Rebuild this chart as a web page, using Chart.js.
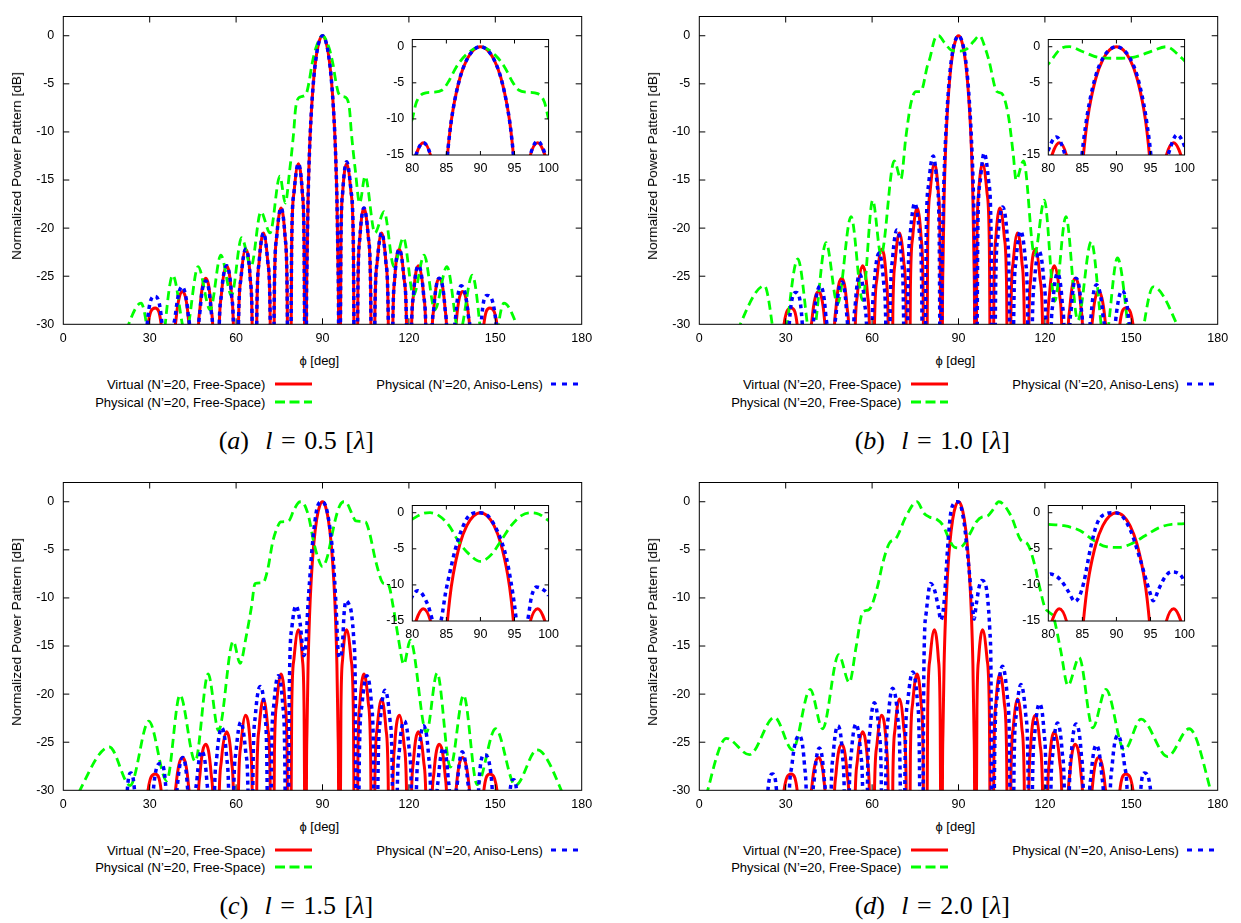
<!DOCTYPE html>
<html><head><meta charset="utf-8">
<script src="https://cdn.jsdelivr.net/npm/chart.js@4.4.1/dist/chart.umd.min.js"></script>
<style>
body{margin:0;background:#fff;}
#page{position:relative;width:1241px;height:923px;overflow:hidden;background:#fff;font-family:'Liberation Sans',Arial,sans-serif;color:#000;}
canvas{position:absolute;}
.ytitle{position:absolute;font-size:12px;white-space:nowrap;transform:translate(-50%,-50%) rotate(-90deg) scaleX(1.14);}
.xtitle{position:absolute;font-size:13px;white-space:nowrap;transform:translate(-50%,-50%);}
.leg{position:absolute;font-size:13px;white-space:nowrap;transform:translate(-100%,-50%);}
.samp{position:absolute;transform:translateY(-50%);}
.cap{position:absolute;font-family:'Liberation Serif','DejaVu Serif',serif;font-size:26px;white-space:nowrap;transform:translate(-50%,-50%);}
.cap .s{display:inline-block;width:0.33em;}
.cap .S{display:inline-block;width:0.62em;}
</style></head><body><div id="page"></div>
<script>
// ---------- tick labels ----------
const xTicksMain=[0,30,60,90,120,150,180];
const yTicksMain=[0,-5,-10,-15,-20,-25,-30];
const xTicksInset=[80,85,90,95,100];
const yTicksInset=[0,-5,-10,-15];
const seriesNames=['Virtual (N\u2019=20, Free-Space)','Physical (N\u2019=20, Free-Space)','Physical (N\u2019=20, Aniso-Lens)'];
const captionLetters=['a','b','c','d'];
const captionValues=['0.5','1.0','1.5','2.0'];

// ---------- series: [phi deg, dB] ----------
const virtualFS=[[25.8,-60],[28.9,-31.3],[31.9,-28.3],[34.4,-31.3],[36.9,-60],
[38.0,-34.9],[39.1,-29.6],[41.4,-26.6],[43.5,-29.6],[44.5,-34.9],[45.6,-60],
[46.6,-33.5],[47.5,-28.2],[49.5,-25.2],[51.3,-28.2],[52.2,-33.5],[53.1,-60],
[54.0,-32.2],[54.9,-26.9],[56.7,-23.9],[58.4,-26.9],[59.2,-32.2],[60.0,-60],
[60.8,-30.5],[61.7,-25.2],[63.3,-22.2],[64.9,-25.2],[65.6,-30.5],[66.4,-60],
[67.2,-28.8],[68.0,-23.5],[69.5,-20.5],[71.0,-23.5],[71.8,-28.8],[72.5,-60],
[73.3,-26.2],[74.1,-20.9],[75.6,-17.9],[77.0,-20.9],[77.7,-26.2],[78.5,-60],
[79.3,-21.6],[80.1,-16.3],[81.6,-13.3],[83.0,-16.3],[83.6,-21.6],[84.3,-60],
[84.4,-32],[84.6,-24],[85.0,-16.9],[85.5,-11.9],[86.0,-8.6],[87.0,-4.3],[88.0,-1.8],[89.0,-0.44],[90,0],[91,-0.44],[92,-1.8],[93,-4.3],[94,-8.6],[94.5,-11.9],[95,-16.9],[95.4,-24],[95.6,-32],[95.7,-60],
[96.4,-21.6],[97.0,-16.3],[98.4,-13.3],[99.9,-16.3],[100.7,-21.6],[101.5,-60],
[102.3,-26.2],[103.0,-20.9],[104.4,-17.9],[105.9,-20.9],[106.7,-26.2],[107.5,-60],
[108.2,-28.8],[109.0,-23.5],[110.5,-20.5],[112.0,-23.5],[112.8,-28.8],[113.6,-60],
[114.4,-30.5],[115.1,-25.2],[116.7,-22.2],[118.3,-25.2],[119.2,-30.5],[120.0,-60],
[120.8,-32.2],[121.6,-26.9],[123.3,-23.9],[125.1,-26.9],[126.0,-32.2],[126.9,-60],
[127.8,-33.5],[128.7,-28.2],[130.5,-25.2],[132.5,-28.2],[133.4,-33.5],[134.4,-60],
[135.5,-34.9],[136.5,-29.6],[138.6,-26.6],[140.9,-29.6],[142.0,-34.9],[143.1,-60],
[145.6,-31.3],[148.1,-28.3],[151.1,-31.3],[154.2,-60]];

const physFS_a=[[20,-32],[27.0,-27.8],[32.5,-36],[38.0,-24.9],[42.5,-31.0],[46.8,-24.0],[51.0,-28.5],[54.7,-22.8],[58.4,-27.0],[61.9,-21.0],[65.2,-24.0],[68.6,-18.3],[71.8,-20.5],[75.2,-14.6],[77.1,-17.4],[78.6,-14.0],[80.0,-10.0],[80.6,-7.7],[81.6,-6.5],[83.0,-6.3],[84.4,-6.0],[85.4,-4.7],[86.4,-2.9],[87.8,-1.2],[90,0],[92.2,-1.2],[93.6,-2.9],[94.6,-4.7],[95.6,-6.0],[97.0,-6.3],[98.4,-6.5],[99.4,-7.7],[100.0,-10.0],[101.4,-14.0],[102.9,-17.4],[104.8,-14.6],[108.2,-20.5],[111.4,-18.3],[114.8,-24.0],[118.1,-21.0],[121.6,-27.0],[125.3,-22.8],[129.0,-28.5],[133.2,-24.0],[137.5,-31.0],[142.0,-24.9],[147.5,-36],[153.0,-27.8],[160,-32]];

const physFS_b=[[11,-32],[22.6,-26.0],[28.0,-34],[34.2,-23.2],[39.0,-32],[44.0,-21.5],[48.0,-27.9],[52.7,-18.8],[56.7,-27.5],[60.2,-17.1],[63.1,-22.8],[67.7,-13.0],[70.0,-14.9],[71.7,-10.6],[73.5,-7.0],[75.2,-5.8],[76.9,-5.8],[79.3,-3.0],[80.0,-2.4],[81.8,-0.3],[83.1,0],[85.1,-0.7],[87.5,-1.5],[90.0,-1.6],[92.8,-1.4],[95.2,-0.6],[97.3,0],[99.5,-1.5],[100.6,-2.6],[103.3,-5.8],[105.0,-6.0],[107.3,-8.3],[109.0,-12.3],[110.0,-15.0],[112.6,-13.0],[116.4,-22.8],[119.8,-17.1],[123.4,-27.6],[127.3,-18.8],[131.4,-29.6],[136.1,-21.4],[140.8,-32],[145.2,-23.1],[151.2,-34],[157.6,-26.1],[169,-32]];

const physFS_c=[[3,-31.5],[16.0,-25.5],[23.2,-29.5],[29.7,-22.8],[35.9,-29.0],[40.5,-20.1],[45.8,-27.0],[50.3,-17.9],[53.9,-23.8],[59.0,-14.5],[61.4,-16.8],[63.5,-14.0],[65.3,-11.0],[66.6,-8.5],[69.4,-8.4],[71.0,-7.0],[72.7,-4.2],[74.4,-2.6],[75.5,-2.1],[78.2,-2.0],[80.0,-0.9],[81.6,-0.1],[82.6,0],[83.9,-0.4],[85.4,-1.8],[86.8,-4.0],[88.3,-5.7],[90,-6.75],[91.7,-5.7],[93.1,-3.75],[94.5,-1.8],[96.0,-0.4],[97.4,0],[98.6,-0.2],[100.0,-1.1],[101.6,-2.0],[104.9,-2.1],[106.3,-3.2],[108.5,-6.2],[111.2,-8.5],[112.8,-8.6],[114.6,-11.0],[116.4,-14.3],[118.2,-16.9],[120.5,-14.4],[126.1,-24.0],[129.8,-17.8],[134.4,-27.6],[139.0,-20.1],[143.7,-29.4],[150.1,-23.6],[157.0,-29.5],[164.5,-25.8],[176,-32]];

const physFS_d=[[1,-32],[9.4,-24.6],[17.4,-26.3],[26.1,-22.4],[32.4,-25.8],[38.5,-19.5],[42.8,-23.6],[48.4,-15.9],[52.1,-18.8],[54.5,-15.0],[56.7,-11.5],[59.0,-11.2],[61.9,-8.8],[63.6,-6.5],[66.0,-4.3],[68.3,-3.8],[71.8,-1.5],[75.6,0],[78.0,-1.2],[80.0,-1.6],[82.3,-1.8],[84.7,-2.5],[86.6,-3.8],[88.5,-4.7],[90.4,-4.8],[92.3,-4.25],[94.2,-3.2],[96.2,-2.1],[98.1,-1.6],[100.0,-1.5],[101.8,-0.9],[104.0,0],[108.2,-1.45],[111.7,-4.0],[114.0,-4.4],[116.4,-6.5],[118.1,-8.8],[120.0,-11.0],[121.5,-11.5],[123.0,-12.0],[125.5,-15.5],[128.0,-19.1],[131.9,-16.2],[136.6,-23.5],[141.2,-19.5],[147.6,-25.8],[153.4,-22.6],[162.6,-26.5],[170.1,-23.6],[179,-31.5]];

const physAL_a=[[26.5,-60],[29.1,-30.1],[31.7,-27.1],[34.3,-30.1],[36.6,-60],
[37.7,-34.4],[38.9,-29.1],[41.2,-26.1],[43.4,-29.1],[44.5,-34.4],[45.6,-60],
[46.6,-33.8],[47.5,-28.5],[49.5,-25.5],[51.3,-28.5],[52.2,-33.8],[53.1,-60],
[54.0,-32.2],[54.9,-26.9],[56.7,-23.9],[58.4,-26.9],[59.2,-32.2],[60.0,-60],
[60.8,-30.5],[61.7,-25.2],[63.3,-22.2],[64.9,-25.2],[65.6,-30.5],[66.4,-60],
[67.2,-28.8],[68.0,-23.5],[69.5,-20.5],[71.0,-23.5],[71.8,-28.8],[72.5,-60],
[73.3,-26.2],[74.1,-20.9],[75.6,-17.9],[77.0,-20.9],[77.7,-26.2],[78.5,-60],
[79.3,-21.6],[80.1,-16.3],[81.6,-13.3],[83.0,-16.3],[83.6,-21.6],[84.3,-60],
[84.4,-32],[84.6,-24],[85.0,-16.9],[85.5,-11.9],[86.0,-8.6],[87.0,-4.3],[88.0,-1.8],[89.0,-0.44],[90,0],[91,-0.44],[92,-1.8],[93,-4.3],[94,-8.6],[94.5,-11.9],[95,-16.9],[95.4,-24],[95.6,-32],[95.7,-60],
[96.4,-21.6],[97.0,-16.3],[98.4,-13.1],[99.9,-16.1],[100.7,-21.4],[101.5,-60],
[102.3,-26.2],[103.0,-20.9],[104.4,-17.9],[105.9,-20.9],[106.7,-26.2],[107.5,-60],
[108.2,-28.8],[109.0,-23.5],[110.5,-20.5],[112.0,-23.5],[112.8,-28.8],[113.6,-60],
[114.4,-30.5],[115.1,-25.2],[116.7,-22.2],[118.3,-25.2],[119.2,-30.5],[120.0,-60],
[120.8,-32.2],[121.6,-26.9],[123.3,-23.9],[125.1,-26.9],[126.0,-32.2],[126.9,-60],
[127.8,-33.5],[128.7,-28.2],[130.5,-25.2],[132.5,-28.2],[133.4,-33.5],[134.4,-60],
[135.4,-34.3],[136.3,-29.0],[138.2,-26.0],[140.6,-29.0],[141.8,-34.3],[143.0,-60],
[145.1,-30.0],[147.2,-27.0],[150.3,-30.0],[153.5,-60]];

const physAL_b=[[29.0,-60],[31.3,-29.7],[33.6,-26.7],[35.7,-29.7],[37.8,-60],
[38.9,-34.3],[39.9,-29.0],[42.0,-26.0],[43.9,-29.0],[44.8,-34.3],[45.7,-60],
[46.7,-33.9],[47.6,-28.6],[49.5,-25.6],[51.1,-28.6],[51.8,-33.9],[52.6,-60],
[53.4,-33.1],[54.2,-27.8],[55.7,-24.8],[57.4,-27.8],[58.3,-33.1],[59.1,-60],
[60.0,-30.9],[60.8,-25.6],[62.5,-22.6],[64.0,-25.6],[64.8,-30.9],[65.5,-60],
[66.3,-28.5],[67.1,-23.2],[68.6,-20.2],[70.2,-23.2],[70.9,-28.5],[71.7,-60],
[72.5,-25.7],[73.3,-20.4],[74.8,-17.4],[76.4,-20.4],[77.2,-25.7],[78.0,-60],
[78.8,-20.8],[79.6,-15.5],[81.2,-12.5],[82.6,-15.5],[83.3,-20.8],[84.0,-60],
[84.2,-28],[84.6,-19],[85.0,-14.5],[85.5,-10.8],[86.0,-7.9],[87.0,-3.9],[88.0,-1.6],[89.0,-0.4],[90,0],[91,-0.4],[92,-1.6],[93,-3.9],[94,-7.9],[94.5,-10.8],[95.0,-14.5],[95.4,-19],[95.8,-28],[96.0,-60],
[96.7,-20.5],[97.5,-15.2],[98.9,-12.2],[100.5,-15.2],[101.3,-20.5],[102.1,-60],
[102.9,-26.1],[103.7,-20.8],[105.3,-17.8],[106.9,-20.8],[107.6,-26.1],[108.4,-60],
[109.2,-28.6],[110.0,-23.3],[111.6,-20.3],[113.2,-23.3],[114.0,-28.6],[114.8,-60],
[115.6,-30.7],[116.4,-25.4],[118.0,-22.4],[119.6,-25.4],[120.4,-30.7],[121.2,-60],
[122.0,-33.0],[122.8,-27.7],[124.4,-24.7],[126.0,-27.7],[126.8,-33.0],[127.6,-60],
[128.4,-33.5],[129.2,-28.2],[130.8,-25.2],[132.6,-28.2],[133.4,-33.5],[134.3,-60],
[135.2,-34.2],[136.1,-28.9],[137.9,-25.9],[140.1,-28.9],[141.2,-34.2],[142.3,-60],
[143.4,-34.8],[144.6,-29.5],[146.8,-26.5],[149.1,-29.5],[150.2,-34.8],[151.3,-60]];

const physAL_c=[[20.5,-60],[22.0,-31.2],[23.5,-28.2],[25.0,-31.2],[28.6,-60],
[31.2,-30.2],[33.8,-27.2],[35.7,-30.2],[37.6,-60],
[38.6,-34.9],[39.6,-29.6],[41.5,-26.6],[43.1,-29.6],[43.9,-34.9],[44.7,-60],
[45.5,-34.2],[46.4,-28.9],[48.0,-25.9],[49.8,-28.9],[50.6,-34.2],[51.5,-60],
[52.4,-31.8],[53.3,-26.5],[55.0,-23.5],[56.7,-26.5],[57.5,-31.8],[58.3,-60],
[59.1,-31.2],[60.0,-25.9],[61.6,-22.9],[63.3,-25.9],[64.2,-31.2],[65.0,-60],
[65.9,-27.5],[66.7,-22.2],[68.4,-19.2],[70.0,-22.2],[70.7,-27.5],[71.5,-60],
[72.3,-26.4],[73.1,-21.1],[74.6,-18.1],[76.2,-21.1],[76.9,-26.4],[77.7,-60],
[78.5,-19.1],[79.4,-13.0],[80.8,-10.8],[82.3,-12.8],[83.0,-15.0],[83.5,-16.0],[84.2,-15.0],[84.9,-11.0],[85.6,-7.9],[86.3,-5.1],[87.3,-2.2],[88.3,-0.44],[89.7,0],[91.1,-0.44],[92.1,-1.8],[93.1,-4.0],[93.8,-6.2],[94.5,-9.7],[95.0,-12.8],[95.3,-15.0],[95.9,-16.2],[96.9,-15.0],[97.5,-11.6],[98.2,-10.3],[99.1,-10.6],[100.0,-11.5],[100.9,-14.5],[101.4,-20.0],[101.9,-60],
[102.8,-26.4],[103.7,-21.1],[105.4,-18.1],[107.0,-21.1],[107.7,-26.4],[108.5,-60],
[109.3,-27.9],[110.1,-22.6],[111.7,-19.6],[113.4,-22.6],[114.2,-27.9],[115.0,-60],
[115.9,-31.1],[116.7,-25.8],[118.4,-22.8],[120.1,-25.8],[120.9,-31.1],[121.7,-60],
[122.5,-31.6],[123.4,-26.3],[125.0,-23.3],[126.8,-26.3],[127.6,-31.6],[128.5,-60],
[129.4,-33.9],[130.3,-28.6],[132.0,-25.6],[133.6,-28.6],[134.4,-33.9],[135.2,-60],
[136.0,-34.3],[136.9,-29.0],[138.5,-26.0],[140.4,-29.0],[141.4,-34.3],[142.3,-60],
[144.3,-29.3],[146.2,-26.3],[148.8,-29.3],[151.3,-60],
[155.0,-30.5],[156.3,-28.9],[157.5,-30.5],[159.5,-60]];

const physAL_d=[[22.0,-60],[23.6,-30.8],[25.4,-28.3],[27.0,-30.8],[29.7,-60],
[31.0,-32.6],[32.2,-27.3],[34.7,-24.3],[36.5,-27.3],[37.3,-32.6],[38.2,-60],
[39.1,-33.9],[40.0,-28.6],[41.7,-25.6],[43.3,-28.6],[44.1,-33.9],[44.9,-60],
[45.7,-31.6],[46.5,-26.3],[48.1,-23.3],[49.7,-26.3],[50.4,-31.6],[51.2,-60],
[52.0,-31.4],[52.8,-26.1],[54.4,-23.1],[56.0,-26.1],[56.8,-31.4],[57.6,-60],
[58.4,-29.2],[59.2,-23.9],[60.8,-20.9],[62.4,-23.9],[63.2,-29.2],[64.0,-60],
[64.8,-27.7],[65.6,-22.4],[67.1,-19.4],[68.9,-22.4],[69.7,-27.7],[70.6,-60],
[71.5,-26.0],[72.4,-20.7],[74.1,-17.7],[75.7,-20.7],[76.4,-26.0],[77.2,-60],
[78.0,-16.8],[78.8,-11.5],[80.3,-8.5],[81.8,-9.3],[83.0,-11.0],[83.9,-12.3],[84.6,-11.5],[85.2,-9.7],[86.2,-4.9],[87.2,-1.4],[88.6,-0.1],[89.5,0],[90.5,-0.2],[92.0,-2.3],[93.4,-6.2],[94.9,-11.0],[95.4,-12.2],[96.2,-10.6],[97.2,-8.8],[98.1,-8.2],[99.1,-8.4],[100.0,-9.7],[100.9,-13.5],[101.3,-19.0],[101.7,-60],
[102.6,-25.4],[103.5,-20.1],[105.3,-17.1],[106.9,-20.1],[107.7,-25.4],[108.5,-60],
[109.3,-27.3],[110.1,-22.0],[111.7,-19.0],[113.3,-22.0],[114.1,-27.3],[114.9,-60],
[115.7,-29.3],[116.5,-24.0],[118.1,-21.0],[119.7,-24.0],[120.4,-29.3],[121.2,-60],
[122.0,-31.3],[122.8,-26.0],[124.4,-23.0],[126.0,-26.0],[126.8,-31.3],[127.6,-60],
[128.4,-31.4],[129.2,-26.1],[130.8,-23.1],[132.6,-26.1],[133.4,-31.4],[134.3,-60],
[135.2,-33.6],[136.1,-28.3],[137.8,-25.3],[139.7,-28.3],[140.6,-33.6],[141.5,-60],
[142.5,-32.6],[143.4,-27.3],[145.3,-24.3],[147.6,-27.3],[148.8,-32.6],[149.9,-60],
[153.2,-30.3],[154.6,-28.2],[156.8,-30.3],[159.0,-60]];

// ---------- layout ----------
const panels=[
 {ox:0,oy:0,green:physFS_a,blue:physAL_a},
 {ox:636,oy:0,green:physFS_b,blue:physAL_b},
 {ox:0,oy:465.7,green:physFS_c,blue:physAL_c},
 {ox:636,oy:465.7,green:physFS_d,blue:physAL_d}
];
const RED='#ff0000',GREEN='#00ff00',BLUE='#0000ff';

const frameTicks={id:'frameTicks',afterDatasetsDraw(chart,args,o){
  const {ctx,chartArea:a,scales:{x,y}}=chart;
  ctx.save();ctx.strokeStyle='#000';ctx.lineWidth=1;ctx.setLineDash([]);
  ctx.strokeRect(a.left,a.top,a.right-a.left,a.bottom-a.top);
  ctx.beginPath();
  x.ticks.forEach(t=>{const p=x.getPixelForValue(t.value);if(p<=a.left+0.5||p>=a.right-0.5)return;
    ctx.moveTo(p,a.bottom);ctx.lineTo(p,a.bottom-o.len);ctx.moveTo(p,a.top);ctx.lineTo(p,a.top+o.len);});
  y.ticks.forEach(t=>{const p=y.getPixelForValue(t.value);if(p<=a.top+0.5||p>=a.bottom-0.5)return;
    ctx.moveTo(a.left,p);ctx.lineTo(a.left+o.len,p);ctx.moveTo(a.right,p);ctx.lineTo(a.right-o.len,p);});
  ctx.stroke();ctx.restore();
}};

const page=document.getElementById('page');
function mkCanvas(l,t,w,h){const c=document.createElement('canvas');c.width=w;c.height=h;c.style.left=l+'px';c.style.top=t+'px';c.style.width=w+'px';c.style.height=h+'px';page.appendChild(c);return c;}

function makeChart(cv,p,cfg){
  const tickFont={family:"'Liberation Sans', Arial, sans-serif",size:12.5};
  return new Chart(cv,{type:'line',
    data:{datasets:[
      {data:p.blue,borderColor:BLUE,borderWidth:3.5,borderDash:[4,4],order:0,clip:0},
      {data:p.green,borderColor:GREEN,borderWidth:2.8,borderDash:[9,5],order:1,clip:0},
      {data:virtualFS,borderColor:RED,borderWidth:3,order:2,clip:0}
    ]},
    options:{responsive:false,animation:false,events:[],
      layout:{padding:{left:0,top:cfg.padTop,right:cfg.padRight,bottom:0}},
      elements:{point:{radius:0},line:{cubicInterpolationMode:'monotone',capBezierPoints:false,borderCapStyle:'butt',fill:false}},
      plugins:{legend:{display:false},tooltip:{enabled:false},frameTicks:{len:cfg.tickLen}},
      scales:{
        x:{type:'linear',min:cfg.xr[0],max:cfg.xr[1],
          afterFit(s){s.height=cfg.xH;},
          afterBuildTicks(s){s.ticks=cfg.xt.map(v=>({value:v}));},
          grid:{display:false,drawTicks:false},border:{display:false},
          ticks:{padding:cfg.xPad,font:tickFont,color:'#000',maxRotation:0,autoSkip:false,callback:v=>String(v)}},
        y:{type:'linear',min:cfg.yr[0],max:cfg.yr[1],
          afterFit(s){s.width=cfg.yW;},
          afterBuildTicks(s){s.ticks=cfg.yt.map(v=>({value:v}));},
          grid:{display:false,drawTicks:false},border:{display:false},
          ticks:{padding:cfg.yPad,font:tickFont,color:'#000',autoSkip:false,callback:v=>String(v)}}
      }},
    plugins:[frameTicks]});
}

function addDiv(cls,html,l,t){const d=document.createElement('div');d.className=cls;d.innerHTML=html;d.style.left=l+'px';d.style.top=t+'px';page.appendChild(d);return d;}
function addSample(l,t,len,color,dash,w){
  const ns='http://www.w3.org/2000/svg';const s=document.createElementNS(ns,'svg');
  s.setAttribute('width',len);s.setAttribute('height',8);s.setAttribute('class','samp');
  s.style.left=l+'px';s.style.top=t+'px';
  const ln=document.createElementNS(ns,'line');ln.setAttribute('x1',0);ln.setAttribute('x2',len);ln.setAttribute('y1',4);ln.setAttribute('y2',4);
  ln.setAttribute('stroke',color);ln.setAttribute('stroke-width',w);if(dash)ln.setAttribute('stroke-dasharray',dash);
  s.appendChild(ln);page.appendChild(s);
}

panels.forEach((p,i)=>{
  const W=600,H=345;
  const main=mkCanvas(p.ox,p.oy,W,H);
  makeChart(main,p,{padTop:8,padRight:W-581.7,xH:H-324.3,yW:63.3,xr:[0,180],yr:[-30,2],xt:xTicksMain,yt:yTicksMain,xPad:7,yPad:9,tickLen:6});
  const iw=195,ih=150,il=p.ox+370,it=p.oy+24;
  const ins=mkCanvas(il,it,iw,ih);
  makeChart(ins,p,{padTop:33.7-24,padRight:(370+iw)-551.7,xH:(24+ih)-155,yW:412.3-370,xr:[80,100],yr:[-15,1],xt:xTicksInset,yt:yTicksInset,xPad:6,yPad:8,tickLen:4});
  const L=p.ox+63.3;
  addDiv('ytitle','Normalized Power Pattern [dB]',p.ox+16.7,p.oy+166);
  addDiv('xtitle','\u03D5 [deg]',L+256,p.oy+360);
  addDiv('leg',seriesNames[0],L+202,p.oy+384.3);
  addSample(L+211.5,p.oy+384.3,37,RED,null,2.8);
  addDiv('leg',seriesNames[1],L+202,p.oy+401.7);
  addSample(L+211.5,p.oy+401.7,37,GREEN,'10 4.5',2.8);
  addDiv('leg',seriesNames[2],L+479.6,p.oy+384.3);
  addSample(L+488,p.oy+384.3,31,BLUE,'5 6',3.2);
  addDiv('cap','(<i>'+captionLetters[i]+'</i>)<span class="S"></span><i>l</i><span class="s"></span>=<span class="s"></span>'+captionValues[i]+'<span class="s"></span>[<i>\u03BB</i>]',L+233,p.oy+440.5);
});
</script></body></html>
